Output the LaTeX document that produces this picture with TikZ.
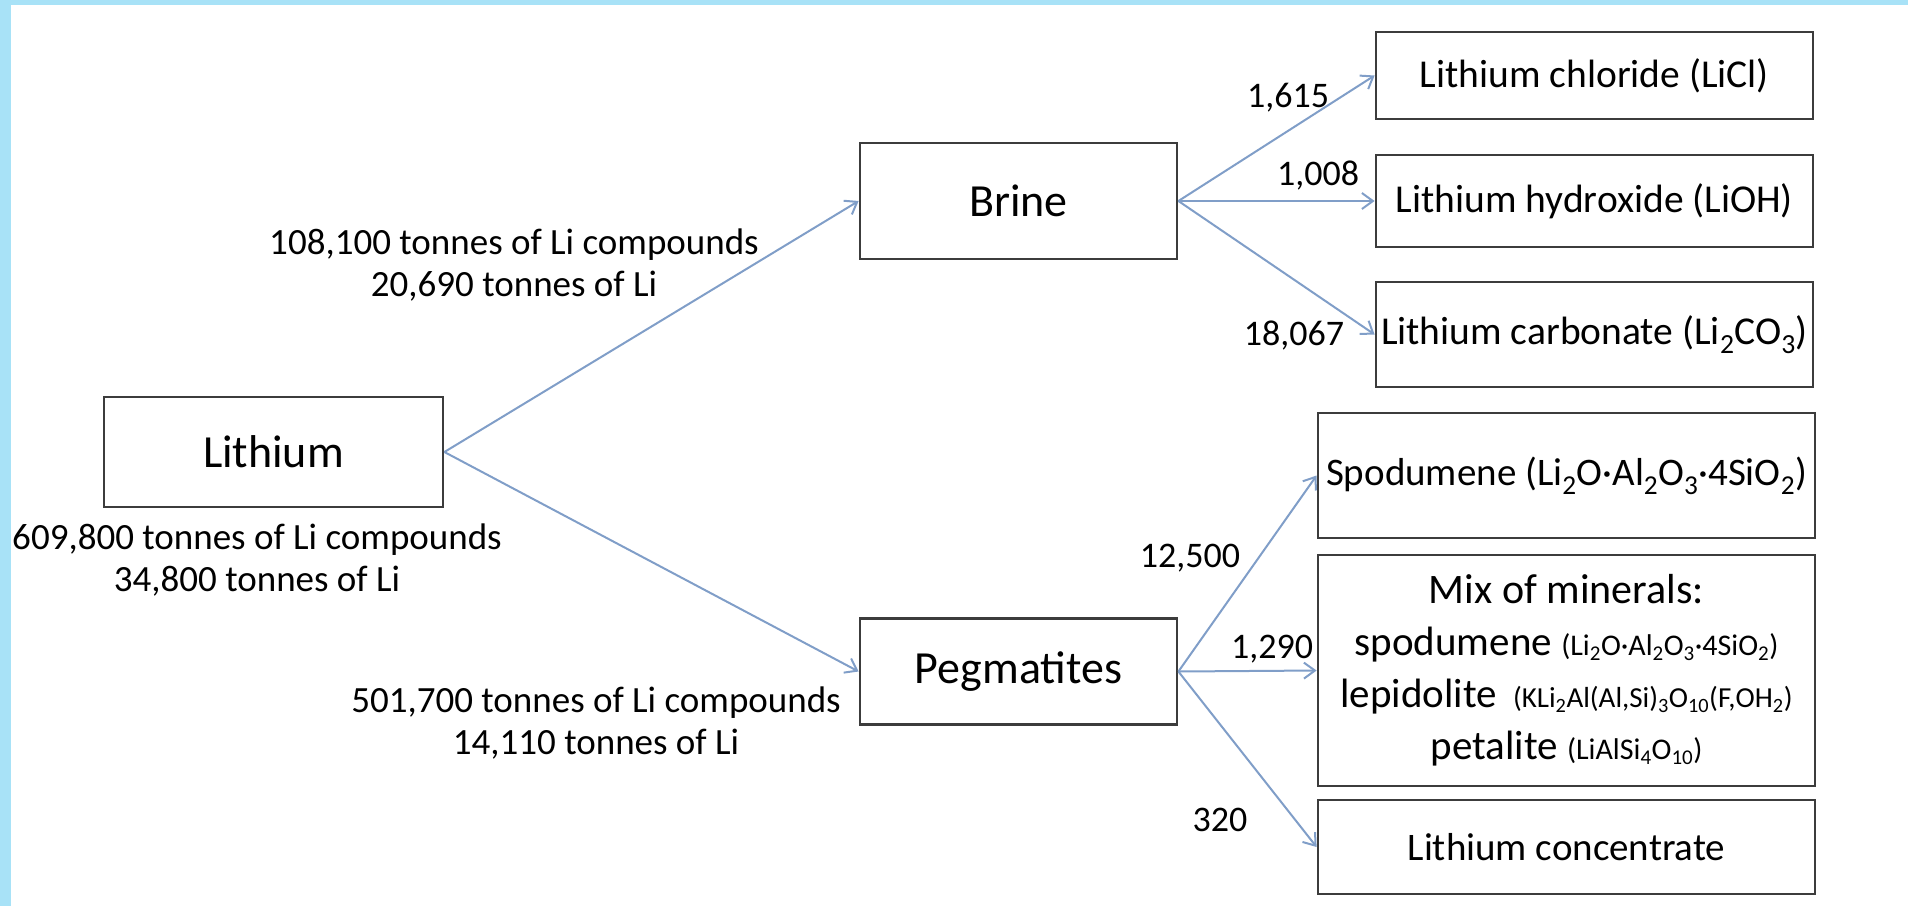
\documentclass[tikz,border=0pt]{standalone}
\usepackage{fontspec}
\setmainfont{Carlito}
\usetikzlibrary{arrows.meta}
\definecolor{frameblue}{RGB}{168,226,247}
\definecolor{flow}{RGB}{128,158,200}
\definecolor{boxline}{RGB}{60,60,60}
\newcommand{\fsz}[1]{\fontsize{#1}{52}\selectfont}
\newcommand{\chemsub}[1]{\textsubscript{#1}}
\begin{document}
\begin{tikzpicture}[x=1pt,y=-1pt,
  box/.style={draw=boxline,line width=2.8pt,fill=white,rectangle,inner sep=0pt,align=center},
  flowarrow/.style={draw=flow,line width=2pt,-{Straight Barb[length=11pt,width=16pt]}},
  lab/.style={font=\fontsize{37}{42}\selectfont,align=center,inner sep=0pt},
  num/.style={font=\fontsize{36}{40}\selectfont,inner sep=0pt}]
\useasboundingbox (0,0) rectangle (1908,906);
% frame strips on the top and left edges
\fill[frameblue] (0,0) rectangle (1908,5);
\fill[frameblue] (0,0) rectangle (11,906);

% source and intermediate boxes
\node[box,minimum width=339pt,minimum height=110pt,font=\fsz{46}] (lith) at (273.5,452) {Lithium};
\node[box,minimum width=317pt,minimum height=116pt,font=\fsz{46}] (brine) at (1018.5,201) {Brine};
\node[box,minimum width=317pt,minimum height=106pt,font=\fsz{46}] (peg) at (1018.5,671.5) {Pegmatites};

% brine products
\node[box,minimum width=437pt,minimum height=87pt,font=\fsz{39.5}] (licl) at (1594.5,75.5) {Lithium chloride (LiCl)};
\node[box,minimum width=437pt,minimum height=92pt,font=\fsz{39.5}] (lioh) at (1594.5,201) {Lithium hydroxide (LiOH)};
\node[box,minimum width=437pt,minimum height=105pt,font=\fsz{39.5}] (lico) at (1594.5,334.5) {Lithium carbonate (Li\chemsub{2}CO\chemsub{3})};

% pegmatite products
\node[box,minimum width=497pt,minimum height=125pt,font=\fsz{39}] (spod) at (1566.5,475.5)
  {Spodumene (Li\chemsub{2}O·Al\chemsub{2}O\chemsub{3}·4SiO\chemsub{2})};
\node[box,minimum width=497pt,minimum height=231pt,font=\fsz{41}] (mix) at (1566.5,670.5)
  {{\fsz{42}Mix of minerals:}\\
   spodumene {\fsz{30}(Li\chemsub{2}O·Al\chemsub{2}O\chemsub{3}·4SiO\chemsub{2})}\\
   lepidolite\, {\fsz{29}(KLi\chemsub{2}Al(Al,Si)\chemsub{3}O\chemsub{10}(F,OH\chemsub{2})}\\
   petalite {\fsz{30}(LiAlSi\chemsub{4}O\chemsub{10})}};
\node[box,minimum width=497pt,minimum height=94pt,font=\fsz{39}] (conc) at (1566.5,847) {Lithium concentrate};

% tonnage labels
\node[lab] (lablith) at (257,560) {609,800 tonnes of Li compounds\\34,800 tonnes of Li};
\node[lab] (labbrine) at (514,265) {108,100 tonnes of Li compounds\\20,690 tonnes of Li};
\node[lab] (labpeg) at (596,723) {501,700 tonnes of Li compounds\\14,110 tonnes of Li};

% flow values
\node[num] (nlicl) at (1288,98) {1,615};
\node[num] (nlioh) at (1318,175) {1,008};
\node[num] (nlico) at (1294,335) {18,067};
\node[num] (nspod) at (1190,558) {12,500};
\node[num] (nmix) at (1272,649) {1,290};
\node[num] (nconc) at (1220,820) {320};

% flows
\draw[flowarrow] (lith.east) -- (brine.west);
\draw[flowarrow] (lith.east) -- (peg.west);
\draw[flowarrow] (brine.east) -- (licl.west);
\draw[flowarrow] (brine.east) -- (lioh.west);
\draw[flowarrow] (brine.east) -- (lico.west);
\draw[flowarrow] (peg.east) -- (spod.west);
\draw[flowarrow] (peg.east) -- (mix.west);
\draw[flowarrow] (peg.east) -- (conc.west);
\end{tikzpicture}
\end{document}
